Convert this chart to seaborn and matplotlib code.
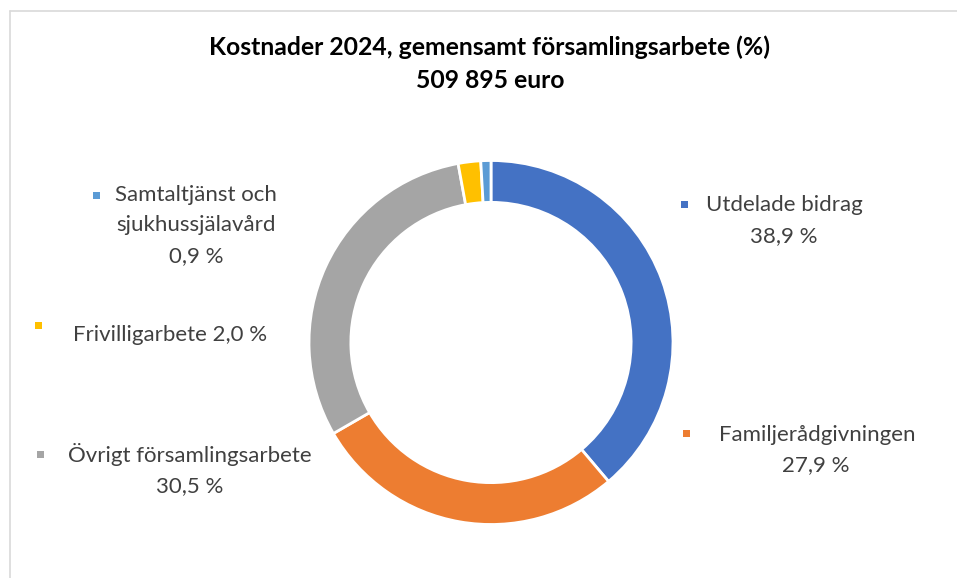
import matplotlib
matplotlib.use("Agg")
import matplotlib.pyplot as plt
from matplotlib.patches import Rectangle
from matplotlib.lines import Line2D
import seaborn as sns

# ---- data ----
categories = ["Utdelade bidrag", "Familjerådgivningen", "Övrigt församlingsarbete",
              "Frivilligarbete", "Samtaltjänst och sjukhussjälavård"]
values = [38.9, 27.9, 30.5, 2.0, 0.9]
value_labels = ["38,9 %", "27,9 %", "30,5 %", "2,0 %", "0,9 %"]
colors = ["#4472C4", "#ED7D31", "#A5A5A5", "#FFC000", "#5B9BD5"]
title_lines = ["Kostnader 2024, gemensamt församlingsarbete (%)", "509 895 euro"]

sns.set_theme(style="white")
plt.rcParams["font.family"] = ["Lato", "DejaVu Sans"]

W, H = 957, 578
fig = plt.figure(figsize=(W / 100, H / 100), dpi=100)
fig.patch.set_facecolor("white")

def fx(x):
    return x / W

def fy(y):
    return 1 - y / H

# donut axes: centre (491, 342), radius 182 px
cx, cy, R = 491, 342.5, 182
ax = fig.add_axes([fx(cx - R), fy(cy + R), 2 * R / W, 2 * R / H])
ax.pie(values, colors=colors, startangle=90, counterclock=False, radius=1,
       wedgeprops=dict(width=0.23, edgecolor="white", linewidth=2))
ax.set_xlim(-1, 1)
ax.set_ylim(-1, 1)
ax.set_aspect("equal")
ax.axis("off")

# frame (left and top only visible)
fig.add_artist(Line2D([fx(10), fx(10)], [fy(11), fy(578)], transform=fig.transFigure,
                      color="#D9D9D9", lw=1.2))
fig.add_artist(Line2D([fx(10), fx(957)], [fy(11), fy(11)], transform=fig.transFigure,
                      color="#D9D9D9", lw=1.2))

# title
fig.text(fx(490), fy(47), title_lines[0], ha="center", va="center",
         fontsize=17.8, fontweight="bold", color="#000000")
fig.text(fx(490), fy(80), title_lines[1], ha="center", va="center",
         fontsize=17.8, fontweight="bold", color="#000000")

tc = "#404040"
fs = 16

def key(x, y, c):
    s = 7
    fig.add_artist(Rectangle((fx(x - s / 2), fy(y + s / 2)), s / W, s / H,
                             transform=fig.transFigure, facecolor=c, edgecolor="none"))

def label(x, y, s):
    fig.text(fx(x), fy(y), s, ha="center", va="center", fontsize=fs, color=tc)

# Utdelade bidrag
key(684, 204, colors[0])
label(784, 205, categories[0])
label(784, 236, value_labels[0])

# Familjerådgivningen
key(686, 433, colors[1])
label(817, 435, categories[1])
label(816, 465, value_labels[1])

# Övrigt församlingsarbete
key(40, 454, colors[2])
label(190, 455, categories[2])
label(190, 486, value_labels[2])

# Frivilligarbete
key(38, 325, colors[3])
label(170, 335, categories[3] + " " + value_labels[3])

# Samtaltjänst och sjukhussjälavård
key(96, 195, colors[4])
label(196, 195, "Samtaltjänst och")
label(196, 225, "sjukhussjälavård")
label(196, 256, value_labels[4])

fig.savefig("out.png", dpi=100, facecolor="white")
